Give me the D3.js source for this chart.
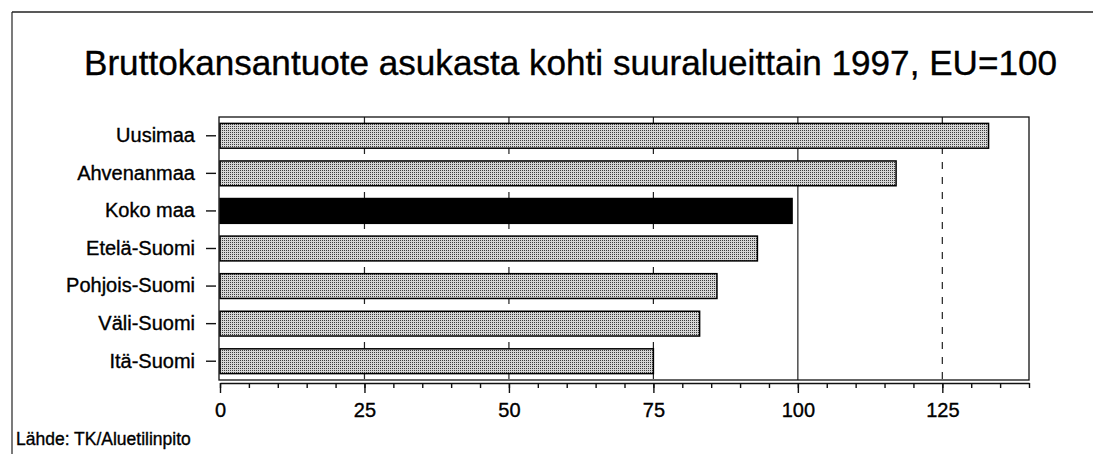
<!DOCTYPE html>
<html>
<head>
<meta charset="utf-8">
<script src="https://cdn.jsdelivr.net/npm/d3@7"></script>
<style>
  html, body { margin: 0; padding: 0; background: #fff; }
  svg { display: block; font-family: "Liberation Sans", Arial, sans-serif; }
  text { stroke: #000; stroke-width: 0.35px; }
</style>
</head>
<body>
<svg id="chart" width="1093" height="454"></svg>
<script>
const titleText = "Bruttokansantuote asukasta kohti suuralueittain 1997, EU=100";
const sourceText = "Lähde: TK/Aluetilinpito";
const categories = ["Uusimaa", "Ahvenanmaa", "Koko maa", "Etelä-Suomi", "Pohjois-Suomi", "Väli-Suomi", "Itä-Suomi"];
const values = [133, 117, 99, 93, 86, 83, 75];
const highlighted = ["Koko maa"];
const majorTicks = [0, 25, 50, 75, 100, 125];
const minorTicks = d3.range(0, 141, 5);
const dashedGrid = [25, 50, 75, 125];
const solidGrid = [100];
const xDomain = [0, 140];

const svg = d3.select("#chart");
const plot = { left: 219, right: 1029, top: 117, bottom: 380 };

// pattern for stippled bars
const defs = svg.append("defs");
const pat = defs.append("pattern").attr("id", "stipple")
  .attr("patternUnits", "userSpaceOnUse").attr("width", 2).attr("height", 2);
pat.append("rect").attr("width", 2).attr("height", 2).attr("fill", "#d6d6d6");
pat.append("rect").attr("x", 0).attr("y", 0).attr("width", 1).attr("height", 1).attr("fill", "#3c3c3c");

// outer frame
svg.append("line").attr("x1", 12).attr("y1", 12).attr("x2", 1093).attr("y2", 12)
  .attr("stroke", "#222").attr("stroke-width", 1.5);
svg.append("line").attr("x1", 12).attr("y1", 12).attr("x2", 12).attr("y2", 454)
  .attr("stroke", "#222").attr("stroke-width", 1.2);

// title
svg.append("text").attr("x", 84).attr("y", 75)
  .attr("font-size", 35).attr("fill", "#000")
  .attr("textLength", 973).attr("lengthAdjust", "spacingAndGlyphs")
  .text(titleText);

const x = d3.scaleLinear().domain(xDomain).range([220, plot.right]);
const y = d3.scaleBand().domain(categories).range([plot.top, plot.bottom])
  .paddingInner(0.34).paddingOuter(0.17);

// grid
svg.append("g").selectAll("line").data(dashedGrid).join("line")
  .attr("x1", d => x(d)).attr("x2", d => x(d))
  .attr("y1", plot.top).attr("y2", plot.bottom)
  .attr("stroke", "#222").attr("stroke-width", 1.2).attr("stroke-dasharray", "7,8");
svg.append("g").selectAll("line").data(solidGrid).join("line")
  .attr("x1", d => x(d)).attr("x2", d => x(d))
  .attr("y1", plot.top).attr("y2", plot.bottom)
  .attr("stroke", "#222").attr("stroke-width", 1.2);

// bars
svg.append("g").selectAll("rect").data(categories).join("rect")
  .attr("x", x(0))
  .attr("y", d => y(d))
  .attr("width", (d, i) => x(values[i]) - x(0))
  .attr("height", y.bandwidth())
  .attr("fill", d => highlighted.includes(d) ? "#000" : "url(#stipple)")
  .attr("stroke", "#000").attr("stroke-width", 1.5);

// plot frame
svg.append("rect").attr("x", plot.left).attr("y", plot.top)
  .attr("width", plot.right - plot.left).attr("height", plot.bottom - plot.top)
  .attr("fill", "none").attr("stroke", "#111").attr("stroke-width", 1.3);

// y axis
const yAxis = svg.append("g").attr("transform", "translate(216,0)")
  .call(d3.axisLeft(y).tickSize(10).tickPadding(11).tickSizeOuter(0));
yAxis.select(".domain").remove();
yAxis.selectAll("line").attr("stroke", "#111").attr("stroke-width", 1.4);
yAxis.selectAll("text").attr("font-size", 20).attr("fill", "#000")
  .attr("font-family", "Liberation Sans, Arial, sans-serif");

// x axis minor ticks
const xMinor = svg.append("g").attr("transform", "translate(0,383)")
  .call(d3.axisBottom(x).tickValues(minorTicks).tickSize(5).tickSizeOuter(0).tickFormat(""));
xMinor.select(".domain").attr("stroke", "#111").attr("stroke-width", 1.4);
xMinor.selectAll("line").attr("stroke", "#111").attr("stroke-width", 1.4);

// x axis major ticks
const xMajor = svg.append("g").attr("transform", "translate(0,383)")
  .call(d3.axisBottom(x).tickValues(majorTicks).tickSize(10).tickPadding(10).tickSizeOuter(0));
xMajor.select(".domain").remove();
xMajor.selectAll("line").attr("stroke", "#111").attr("stroke-width", 1.4);
xMajor.selectAll("text").attr("font-size", 20).attr("fill", "#000")
  .attr("font-family", "Liberation Sans, Arial, sans-serif");

// source
svg.append("text").attr("x", 16).attr("y", 445)
  .attr("font-size", 17.5).attr("fill", "#000")
  .text(sourceText);
</script>
</body>
</html>
